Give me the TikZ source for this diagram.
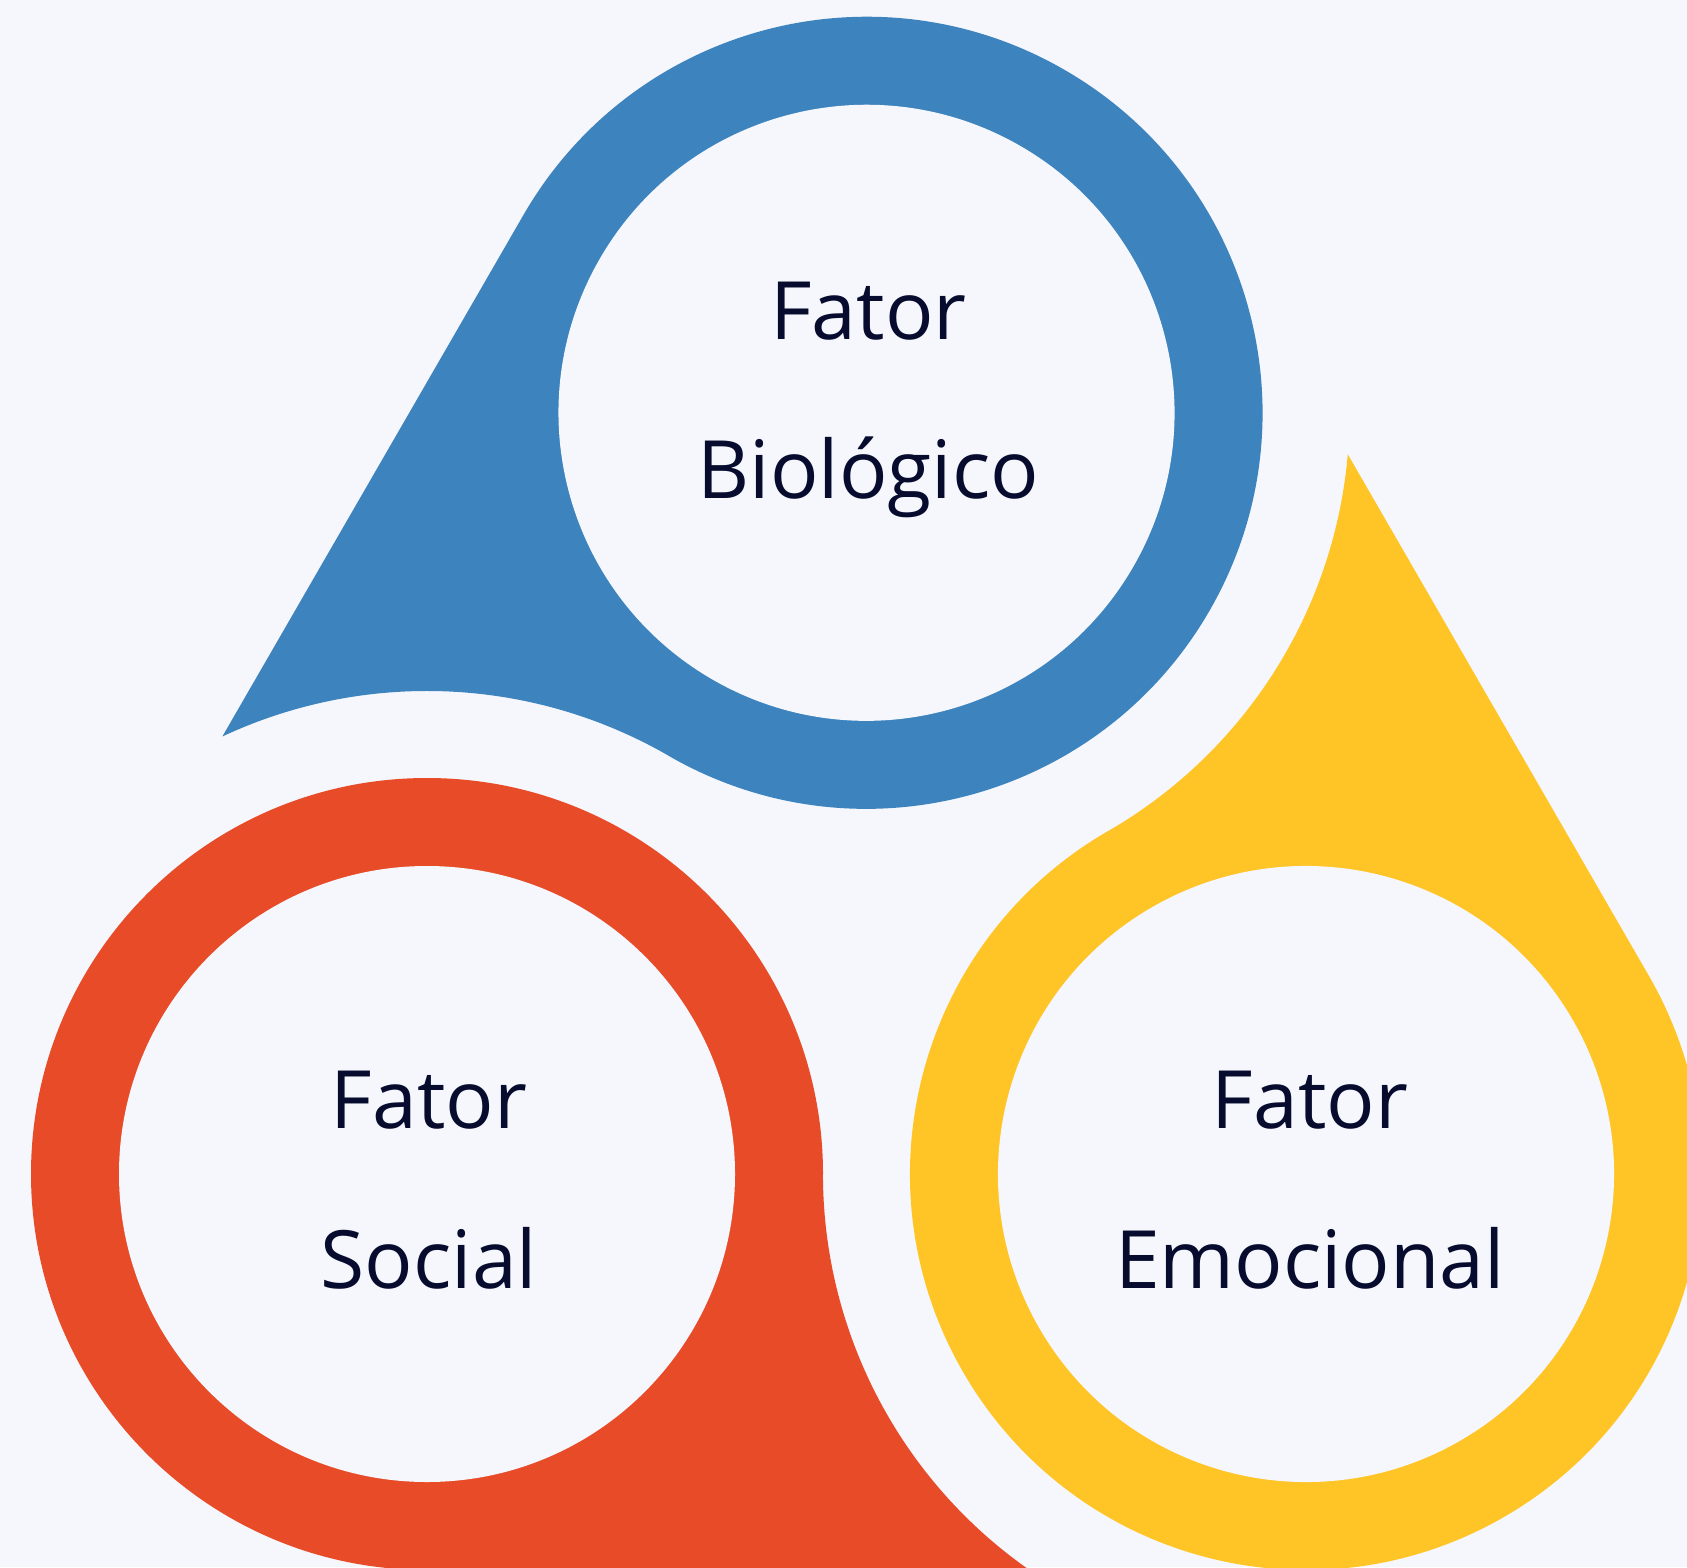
\documentclass[tikz,border=0pt]{standalone}
\usepackage{fontspec}
\setmainfont{Open Sans}
\usetikzlibrary{calc,positioning}
\definecolor{fundo}{HTML}{F5F7FC}
\definecolor{azul}{HTML}{3D83BE}
\definecolor{vermelho}{HTML}{E84B28}
\definecolor{amarelo}{HTML}{FFC527}
\definecolor{tinta}{HTML}{070C2F}

\begin{document}
\begin{tikzpicture}[every node/.style={text=tinta, inner sep=0pt, anchor=base,
      font=\fontsize{22.9}{28}\selectfont},
    furo/.style={fill=fundo}]
    \fill[fundo] (0,0) rectangle (16.87,15.67);
    \useasboundingbox (0,0) rectangle (16.87,15.67);
    \clip (0,0) rectangle (16.87,15.67);
    \coordinate (bio) at (8.665,11.542);
    \coordinate (soc) at (4.27,3.93);
    \coordinate (emo) at (13.06,3.93);
    % gotas: anel com cauda voltada para o vizinho
    \foreach \c/\r/\cor in {bio/240/azul, soc/0/vermelho, emo/120/amarelo}{
      \begin{scope}[shift={(\c)}, rotate=\r]
        \fill[\cor] (3.96,0) arc[start angle=0, end angle=270, radius=3.96]
          -- (6.024,-3.96) arc[start angle=235.07, end angle=180, radius=4.83] -- cycle;
        \fill[furo] (0,0) circle (3.08);
      \end{scope}
    }
    \node (bioA) at ($(bio)+(0.02,0.735)$) {Fator};
    \node (bioB) at ($(bio)+(0.02,-0.86)$) {Biológico};
    \node (socA) at ($(soc)+(0.02,0.455)$) {Fator};
    \node (socB) at ($(soc)+(0.02,-1.14)$) {Social};
    \node (emoA) at ($(emo)+(0.04,0.455)$) {Fator};
    \node (emoB) at ($(emo)+(0.04,-1.14)$) {Emocional};
\end{tikzpicture}
\end{document}
